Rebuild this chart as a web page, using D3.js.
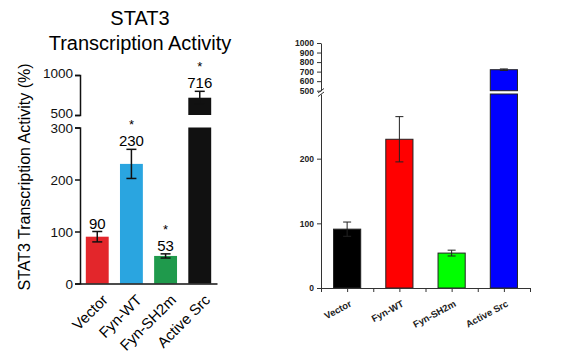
<!DOCTYPE html>
<html><head><meta charset="utf-8">
<script src="https://cdn.jsdelivr.net/npm/d3@7"></script>
<style>
html,body{margin:0;padding:0;background:#fff;}
svg{display:block;font-family:"Liberation Sans",Arial,sans-serif;}
</style></head>
<body><svg id="c" width="567" height="360"></svg>
<script>
const categories = ["Vector", "Fyn-WT", "Fyn-SH2m", "Active Src"];
const leftValues = [90, 230, 53, 716];
const leftErrors = [10, 28, 4, 80];
const leftStars = ["", "*", "*", "*"];
const leftColors = ["#e3262b", "#2aa5e0", "#1f9a4c", "#111111"];
const leftTicksLower = [0, 100, 200, 300];
const leftTicksUpper = [500, 1000];
const rightValues = [91, 230, 54, 720];
const rightErrors = [11, 35, 4.5, 8];
const rightColors = ["#000000", "#ff0000", "#00ff00", "#0000ff"];
const rightTicksLower = [0, 100, 200];
const rightTicksUpper = [500, 600, 700, 800, 900, 1000];

const svg = d3.select("#c");
const fmt = d3.format("d");

// ---------- LEFT CHART ----------
const L = svg.append("g");
const xL = d3.scaleBand().domain(categories).range([80, 217]).paddingInner(0.33).paddingOuter(0.17);
const yLlow = d3.scaleLinear().domain([0, 300]).range([283.5, 127.5]);
const yLup = d3.scaleLinear().domain([500, 1000]).range([115, 75]);
const brk = 300, brkTop = 500;

L.append("text").attr("x", 140).attr("y", 25).attr("text-anchor", "middle")
  .attr("font-size", 20).text("STAT3");
L.append("text").attr("x", 140).attr("y", 50).attr("text-anchor", "middle")
  .attr("font-size", 20).text("Transcription Activity");
L.append("text").attr("transform", "translate(30,177) rotate(-90)")
  .attr("text-anchor", "middle").attr("font-size", 16)
  .text("STAT3 Transcription Activity (%)");

// bars
categories.forEach((c, i) => {
  const v = leftValues[i];
  const x = xL(c), w = xL.bandwidth();
  if (v <= brk) {
    L.append("rect").attr("x", x).attr("width", w).attr("y", yLlow(v))
      .attr("height", yLlow(0) - yLlow(v)).attr("fill", leftColors[i]);
  } else {
    L.append("rect").attr("x", x).attr("width", w).attr("y", yLlow(brk))
      .attr("height", yLlow(0) - yLlow(brk)).attr("fill", leftColors[i]);
    L.append("rect").attr("x", x).attr("width", w).attr("y", yLup(v))
      .attr("height", yLup(brkTop) - yLup(v)).attr("fill", leftColors[i]);
  }
});
// error bars + labels
categories.forEach((c, i) => {
  const v = leftValues[i], e = leftErrors[i];
  const cx = xL(c) + xL.bandwidth() / 2;
  const ys = v <= brk ? yLlow : yLup;
  const y1 = ys(v + e), y0 = ys(v - e);
  const eg = L.append("g").attr("stroke", "#111").attr("stroke-width", 1.5);
  eg.append("line").attr("x1", cx).attr("x2", cx).attr("y1", y1).attr("y2", y0);
  eg.append("line").attr("x1", cx - 5).attr("x2", cx + 5).attr("y1", y1).attr("y2", y1);
  eg.append("line").attr("x1", cx - 5).attr("x2", cx + 5).attr("y1", y0).attr("y2", y0);
  L.append("text").attr("x", cx).attr("y", y1 - 3).attr("text-anchor", "middle")
    .attr("font-size", 15).text(v);
  if (leftStars[i]) {
    L.append("text").attr("x", cx).attr("y", y1 - 3 - 17).attr("text-anchor", "middle")
      .attr("font-size", 13).text(leftStars[i]);
  }
});

// axes
const axLlow = L.append("g").attr("transform", "translate(80,0)")
  .call(d3.axisLeft(yLlow).tickValues(leftTicksLower).tickFormat(fmt).tickSize(5).tickSizeOuter(5));
const axLup = L.append("g").attr("transform", "translate(80,0)")
  .call(d3.axisLeft(yLup).tickValues(leftTicksUpper).tickFormat(fmt).tickSize(5).tickSizeOuter(5));
[axLlow, axLup].forEach(a => {
  a.selectAll("path,line").attr("stroke", "#111").attr("stroke-width", 1.5);
  a.selectAll("text").attr("font-size", 13.5).attr("fill", "#111")
    .attr("font-family", "'Liberation Sans',Arial,sans-serif").attr("dx", "1");
});
axLup.selectAll("text").attr("dy", "0.2em");
axLlow.selectAll("text").attr("dy", "0.4em");
const axLx = L.append("g").attr("transform", `translate(0,${yLlow(0)})`)
  .call(d3.axisBottom(xL).tickSize(0).tickSizeOuter(0).tickFormat(""));
axLx.select(".domain").attr("stroke", "#111").attr("stroke-width", 1.5);
categories.forEach(c => {
  const cx = xL(c) + xL.bandwidth() / 2 + 4;
  L.append("text").attr("transform", `translate(${cx},${yLlow(0) + 10}) rotate(-45)`)
    .attr("text-anchor", "end").attr("dy", "0.7em").attr("font-size", 15).text(c);
});

// ---------- RIGHT CHART ----------
const R = svg.append("g");
const xR = d3.scaleBand().domain(categories).range([321, 530]).paddingInner(0.48).paddingOuter(0.24);
const xRi = d3.scaleLinear().domain([0, 4]).range([321, 530]);
const yRlow = d3.scaleLinear().domain([0, 300]).range([288, 94]);
const yRup = d3.scaleLinear().domain([500, 1000]).range([90.7, 43]);

categories.forEach((c, i) => {
  const v = rightValues[i];
  const x = xR(c), w = xR.bandwidth();
  if (v <= 300) {
    R.append("rect").attr("x", x).attr("width", w).attr("y", yRlow(v))
      .attr("height", yRlow(0) - yRlow(v)).attr("fill", rightColors[i])
      .attr("stroke", "#222").attr("stroke-width", 1);
  } else {
    R.append("rect").attr("x", x).attr("width", w).attr("y", yRlow(300))
      .attr("height", yRlow(0) - yRlow(300)).attr("fill", rightColors[i])
      .attr("stroke", "#222").attr("stroke-width", 1);
    R.append("rect").attr("x", x).attr("width", w).attr("y", yRup(v))
      .attr("height", yRup(500) - yRup(v)).attr("fill", rightColors[i])
      .attr("stroke", "#222").attr("stroke-width", 1);
  }
});
categories.forEach((c, i) => {
  const v = rightValues[i], e = rightErrors[i];
  const cx = xR(c) + xR.bandwidth() / 2;
  const ys = v <= 300 ? yRlow : yRup;
  const y1 = ys(v + e), y0 = ys(v - e);
  const eg = R.append("g").attr("stroke", "#222").attr("stroke-width", 1);
  eg.append("line").attr("x1", cx).attr("x2", cx).attr("y1", y1).attr("y2", y0);
  eg.append("line").attr("x1", cx - 4).attr("x2", cx + 4).attr("y1", y1).attr("y2", y1);
  eg.append("line").attr("x1", cx - 4).attr("x2", cx + 4).attr("y1", y0).attr("y2", y0);
});

const axRlow = R.append("g").attr("transform", "translate(321,0)")
  .call(d3.axisLeft(yRlow).tickValues(rightTicksLower).tickFormat(fmt).tickSize(4).tickSizeOuter(0));
const axRup = R.append("g").attr("transform", "translate(321,0)")
  .call(d3.axisLeft(yRup).tickValues(rightTicksUpper).tickFormat(fmt).tickSize(4).tickSizeOuter(0));
[axRlow, axRup].forEach(a => {
  a.selectAll("path,line").attr("stroke", "#333").attr("stroke-width", 1);
  a.selectAll("text").attr("font-size", 8.5).attr("font-weight", "bold").attr("fill", "#222")
    .attr("font-family", "'Liberation Sans',Arial,sans-serif");
});
// break marks
R.append("line").attr("x1", 318).attr("x2", 324).attr("y1", 93).attr("y2", 88.5).attr("stroke", "#333");
R.append("line").attr("x1", 318).attr("x2", 324).attr("y1", 96.5).attr("y2", 92).attr("stroke", "#333");

const axRx = R.append("g").attr("transform", `translate(0,${yRlow(0)})`)
  .call(d3.axisBottom(xRi).tickValues(d3.range(0, 4.01, 0.5)).tickSize(4).tickSizeOuter(0).tickFormat(""));
axRx.selectAll("path,line").attr("stroke", "#333").attr("stroke-width", 1);
categories.forEach(c => {
  const cx = xR(c) + xR.bandwidth() / 2 + 2;
  R.append("text").attr("transform", `translate(${cx},${yRlow(0) + 12}) rotate(-28)`)
    .attr("text-anchor", "end").attr("dy", "0.7em").attr("font-size", 9.5)
    .attr("font-weight", "bold").attr("fill", "#222").text(c);
});
</script></body></html>
